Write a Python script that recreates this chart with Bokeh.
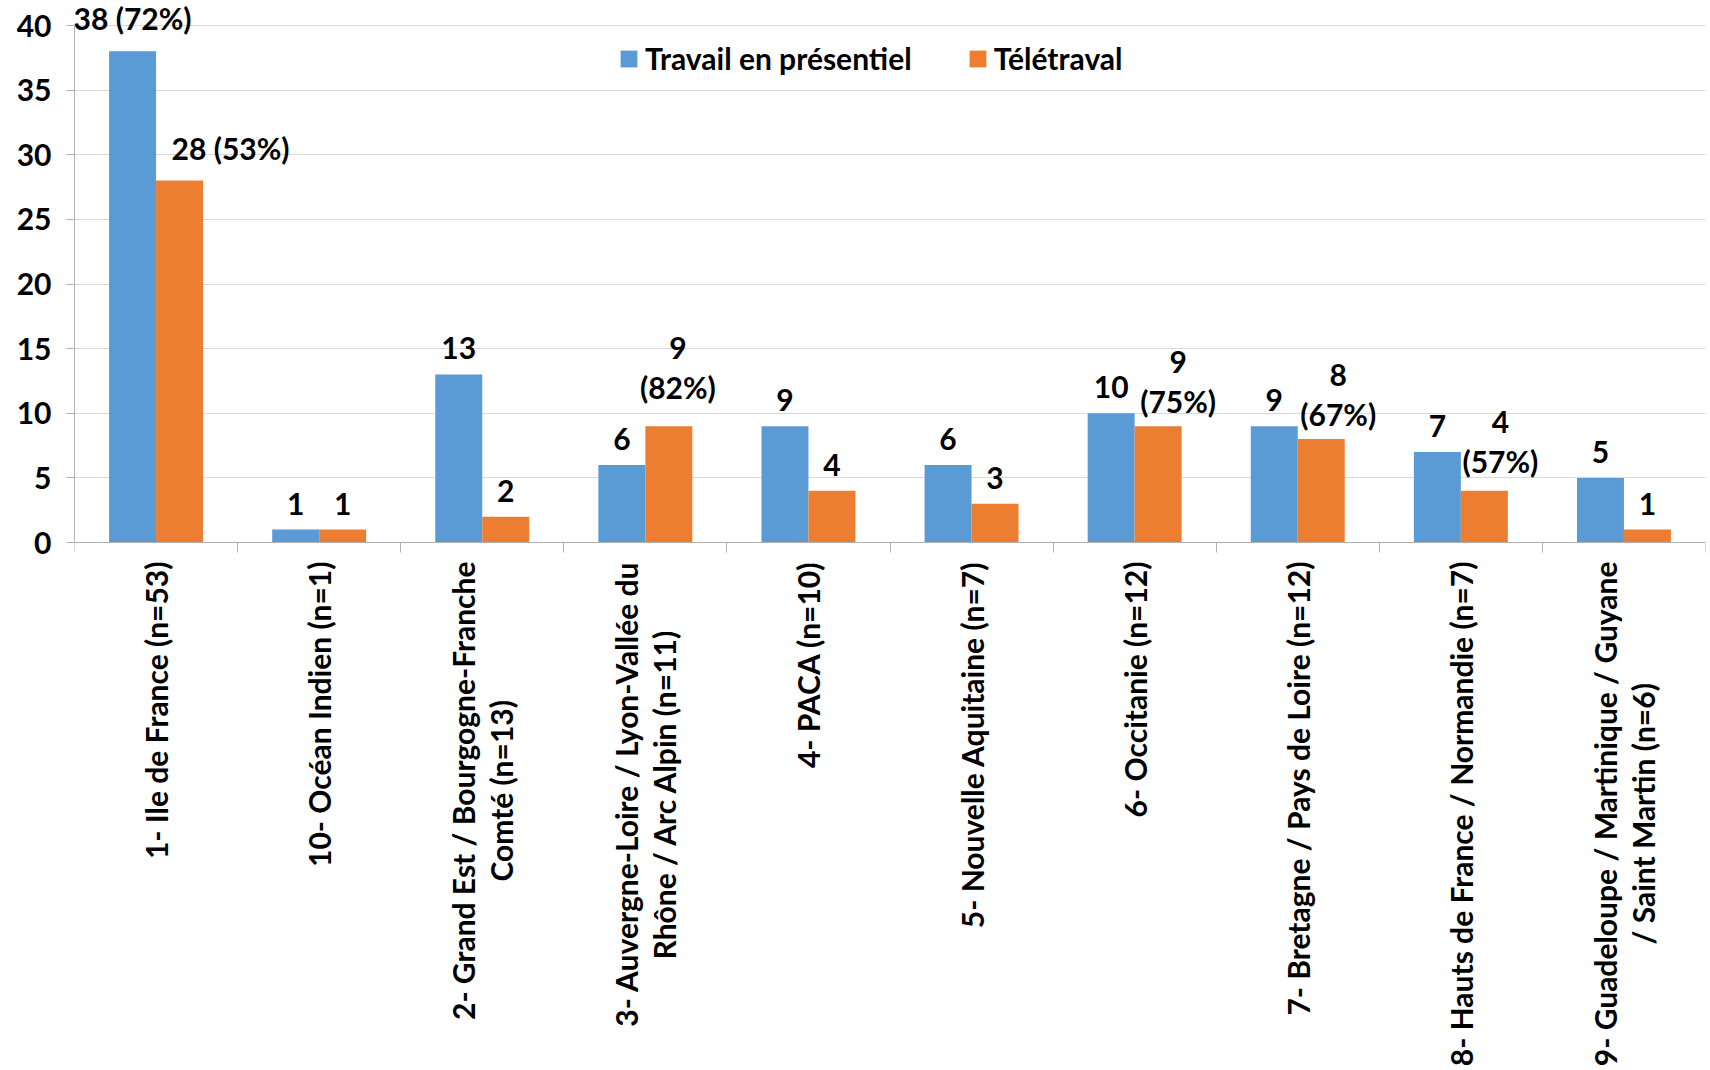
import math
from bokeh.plotting import figure
from bokeh.models import ColumnDataSource, Range1d, FixedTicker, Legend, LegendItem, Text
from bokeh.core.properties import value
from bokeh.embed import file_html
from bokeh.resources import INLINE

# ---------------- data ----------------
categories = [
    "1- Ile de France (n=53)",
    "10- Océan Indien (n=1)",
    "2- Grand Est / Bourgogne-Franche\nComté (n=13)",
    "3- Auvergne-Loire / Lyon-Vallée du\nRhône / Arc Alpin (n=11)",
    "4- PACA (n=10)",
    "5- Nouvelle Aquitaine (n=7)",
    "6- Occitanie (n=12)",
    "7- Bretagne / Pays de Loire (n=12)",
    "8- Hauts de France / Normandie (n=7)",
    "9- Guadeloupe / Martinique / Guyane\n/ Saint Martin (n=6)",
]
series_names = ["Travail en présentiel", "Télétraval"]
presentiel = [38, 1, 13, 6, 9, 6, 10, 9, 7, 5]
teletravail = [28, 1, 2, 9, 4, 3, 9, 8, 4, 1]
presentiel_labels = ["38 (72%)", "1", "13", "6", "9", "6", "10", "9", "7", "5"]
teletravail_labels = ["28 (53%)", "1", "2", "9\n(82%)", "4", "3", "9\n(75%)", "8\n(67%)", "4\n(57%)", "1"]
y_ticks = [0, 5, 10, 15, 20, 25, 30, 35, 40]

# ---------------- style ----------------
FONT = "Lato"
FS = "30px"
BLUE = "#5B9BD5"
ORANGE = "#ED7D31"
GRID = "#D9D9D9"
AXIS = "#B0B0B0"
BAR_W = 0.288
# manual label nudges (screen px) used in the original for the orange labels
orange_dx = [51, 0, 0, 9, 0, 0, 20, 17, 16, 0]
orange_dy = [0, 0, 0, -6, 0, 0, 8, 8, 3, 0]

n = len(categories)
xb = [i + 0.5 - BAR_W / 2 for i in range(n)]
xo = [i + 0.5 + BAR_W / 2 for i in range(n)]
xc = [i + 0.5 for i in range(n)]

FRAME_H = 1068
PX_PER_UNIT = 12.925
Y_TOP = 40 + 25 / PX_PER_UNIT
Y_BOT = Y_TOP - FRAME_H / PX_PER_UNIT

p = figure(frame_width=1631, frame_height=FRAME_H,
           x_range=Range1d(0, n), y_range=Range1d(Y_BOT, Y_TOP),
           output_backend="svg", toolbar_location=None,
           min_border_left=74, min_border_right=5, min_border_top=0,
           min_border_bottom=0)
p.outline_line_color = None
p.background_fill_color = "white"
p.border_fill_color = "white"

src_b = ColumnDataSource(dict(x=xb, top=presentiel, text=presentiel_labels,
                              dx=[0] * n, dy=[-15] * n))
src_o = ColumnDataSource(dict(x=xo, top=teletravail, text=teletravail_labels,
                              dx=orange_dx, dy=[-15 + d for d in orange_dy]))

rb = p.vbar(x="x", top="top", bottom=0, width=BAR_W, source=src_b,
            fill_color=BLUE, line_color=None)
ro = p.vbar(x="x", top="top", bottom=0, width=BAR_W, source=src_o,
            fill_color=ORANGE, line_color=None)

for src in (src_b, src_o):
    p.text(x="x", y="top", text="text", source=src,
           x_offset="dx", y_offset="dy",
           text_align="center", text_baseline="bottom",
           text_font=value(FONT), text_font_style="bold",
           text_font_size=FS, text_color="black", text_line_height=1.11)

# axes
p.xaxis.fixed_location = 0
p.xaxis.ticker = FixedTicker(ticks=list(range(n + 1)))
p.xaxis.major_label_overrides = {i: "" for i in range(n + 1)}
p.xaxis.major_label_standoff = 0
p.xaxis.axis_line_color = AXIS
p.xaxis.major_tick_line_color = AXIS
p.xaxis.major_tick_out = 10
p.xaxis.major_tick_in = 0
p.xaxis.minor_tick_line_color = None

p.yaxis.ticker = FixedTicker(ticks=y_ticks)
p.yaxis.bounds = (0, 40)
p.yaxis.axis_line_color = AXIS
p.yaxis.major_tick_line_color = AXIS
p.yaxis.major_tick_out = 8
p.yaxis.major_tick_in = 0
p.yaxis.minor_tick_line_color = None
p.yaxis.major_label_text_font = FONT
p.yaxis.major_label_text_font_style = "bold"
p.yaxis.major_label_text_font_size = FS
p.yaxis.major_label_text_color = "black"
p.yaxis.major_label_standoff = 15

p.xgrid.grid_line_color = None
p.ygrid.grid_line_color = GRID
p.ygrid.grid_line_width = 1

# category labels (rotated, centred multi-line) below the zero axis
src_c = ColumnDataSource(dict(x=xc, y=[0] * n, text=categories))
if "anchor" in Text.properties():
    extra = dict(anchor="center_right", text_align="center")
else:
    extra = dict(text_align="right", text_baseline="middle")
p.text(x="x", y="y", text="text", source=src_c, y_offset=19,
       angle=math.pi / 2, text_font=value(FONT), text_font_style="bold",
       text_font_size=FS, text_color="black", text_line_height=1.05, **extra)

legend = Legend(items=[LegendItem(label=series_names[0], renderers=[rb]),
                       LegendItem(label=series_names[1], renderers=[ro])],
                orientation="horizontal", location=(544, FRAME_H - 76),
                glyph_width=21, glyph_height=21, label_standoff=6, spacing=55,
                padding=0, margin=0, border_line_alpha=0,
                background_fill_alpha=0,
                label_text_font=FONT, label_text_font_style="bold",
                label_text_font_size=FS, label_text_color="black")
p.add_layout(legend)

open("out.html", "w").write(file_html(p, INLINE))
